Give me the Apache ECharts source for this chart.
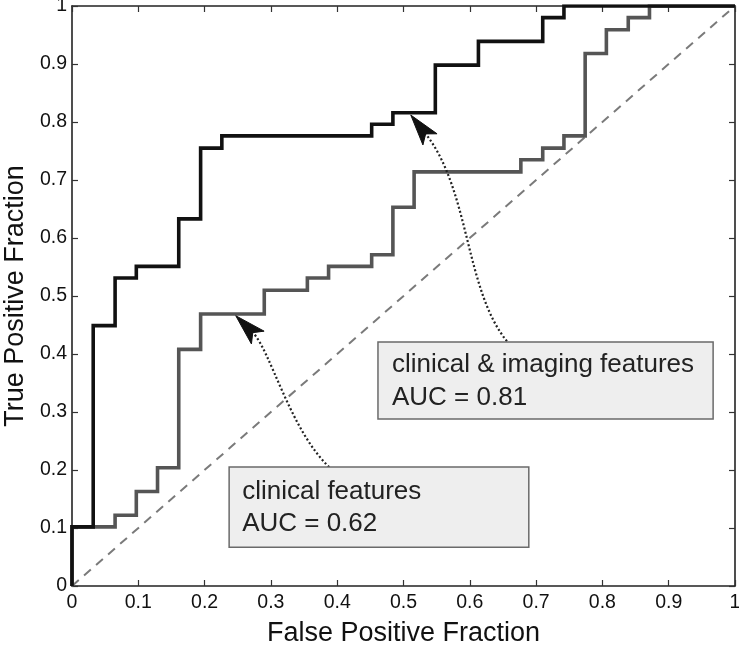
<!DOCTYPE html>
<html>
<head>
<meta charset="utf-8">
<script src="https://cdn.jsdelivr.net/npm/echarts@6/dist/echarts.min.js"></script>
<style>
html,body{margin:0;padding:0;background:#fff;}
#chart{width:739px;height:646px;}
</style>
</head>
<body>
<div id="chart"></div>
<script>
// ROC operating points (step curves)
var imagingFPR = [0, 0, 0.032, 0.065, 0.097, 0.161, 0.194, 0.226, 0.452, 0.484, 0.548, 0.613, 0.710, 0.742, 1];
var imagingTPR = [0, 0.102, 0.449, 0.531, 0.551, 0.633, 0.755, 0.776, 0.796, 0.816, 0.898, 0.939, 0.980, 1, 1];
var clinicalFPR = [0, 0, 0.065, 0.097, 0.129, 0.161, 0.194, 0.290, 0.355, 0.387, 0.452, 0.484, 0.516, 0.677, 0.710, 0.742, 0.774, 0.806, 0.839, 0.871, 1];
var clinicalTPR = [0, 0.102, 0.122, 0.163, 0.204, 0.408, 0.469, 0.510, 0.531, 0.551, 0.571, 0.653, 0.714, 0.735, 0.755, 0.776, 0.918, 0.959, 0.980, 1, 1];
var chanceX = [0, 1];
var chanceY = [0, 1];
var ticks = [0, 0.1, 0.2, 0.3, 0.4, 0.5, 0.6, 0.7, 0.8, 0.9, 1];

var xTitle = 'False Positive Fraction';
var yTitle = 'True Positive Fraction';
var box1Lines = ['clinical & imaging features', 'AUC = 0.81'];
var box2Lines = ['clinical features', 'AUC = 0.62'];

function zip(a, b) { return a.map(function (v, i) { return [v, b[i]]; }); }

var FONT = '"Liberation Sans", Arial, Helvetica, sans-serif';
var chart = echarts.init(document.getElementById('chart'), null, {renderer: 'canvas'});

var axisCommon = {
  type: 'value', min: 0, max: 1, interval: 0.1,
  axisLine: {show: true, onZero: false, lineStyle: {color: '#222', width: 1.6}},
  axisTick: {show: true, inside: true, length: 6, lineStyle: {color: '#333', width: 1.2}},
  splitLine: {show: false}
};

chart.setOption({
  animation: false,
  backgroundColor: '#fff',
  grid: {left: 72, right: 4, top: 6, bottom: 60, containLabel: false, outerBoundsMode: 'none'},
  xAxis: [
    Object.assign({}, axisCommon, {
      position: 'bottom',
      axisLabel: {color: '#111', fontSize: 19.5, fontFamily: FONT, margin: 7,
        formatter: function (v) { return String(Math.round(v * 10) / 10); }},
      name: xTitle, nameLocation: 'middle', nameGap: 34,
      nameTextStyle: {color: '#111', fontSize: 27, fontFamily: FONT}
    }),
    Object.assign({}, axisCommon, {position: 'top', axisLabel: {show: false}})
  ],
  yAxis: [
    Object.assign({}, axisCommon, {
      position: 'left',
      axisLabel: {color: '#111', fontSize: 19.5, fontFamily: FONT, margin: 5,
        formatter: function (v) { return String(Math.round(v * 10) / 10); }},
      name: yTitle, nameLocation: 'middle', nameGap: 42, nameRotate: 90,
      nameTextStyle: {color: '#111', fontSize: 27, fontFamily: FONT}
    }),
    Object.assign({}, axisCommon, {position: 'right', axisLabel: {show: false}})
  ],
  series: [
    {
      type: 'line', name: 'chance', data: zip(chanceX, chanceY), showSymbol: false,
      lineStyle: {color: '#7a7a7a', width: 2, type: [9, 7]}, z: 1
    },
    {
      type: 'line', name: 'clinical features', data: zip(clinicalFPR, clinicalTPR), step: 'end',
      showSymbol: false, lineStyle: {color: '#555', width: 3.6, join: 'miter'}, z: 2
    },
    {
      type: 'line', name: 'clinical & imaging features', data: zip(imagingFPR, imagingTPR), step: 'end',
      showSymbol: false, lineStyle: {color: '#111', width: 3.6, join: 'miter'}, z: 3
    }
  ]
});

function px(x, y) { return chart.convertToPixel({xAxisIndex: 0, yAxisIndex: 0}, [x, y]); }

function box(x0, y0, x1, y1, lines, padX, firstOff, lineGap) {
  var a = px(x0, y0), b = px(x1, y1);
  var els = [{
    type: 'rect', z: 50,
    shape: {x: a[0], y: a[1], width: b[0] - a[0], height: b[1] - a[1]},
    style: {fill: '#eeeeee', stroke: '#6a6a6a', lineWidth: 1.5}
  }];
  lines.forEach(function (t, i) {
    els.push({
      type: 'text', z: 51,
      x: a[0] + padX, y: a[1] + firstOff + i * lineGap,
      style: {text: t, fontSize: 26, fontFamily: FONT, fill: '#222', verticalAlign: 'middle', align: 'left'}
    });
  });
  return els;
}

function arrow(p0, p1, p2, p3) {
  var P0 = px(p0[0], p0[1]), P1 = px(p1[0], p1[1]), P2 = px(p2[0], p2[1]), P3 = px(p3[0], p3[1]);
  var ang = Math.atan2(P3[1] - P2[1], P3[0] - P2[0]);
  var c = Math.cos(ang), s = Math.sin(ang);
  var local = [[0, 0], [-31, -9], [-24, 0], [-31, 9]];
  var pts = local.map(function (p) { return [P3[0] + p[0] * c - p[1] * s, P3[1] + p[0] * s + p[1] * c]; });
  var notch = pts[2];
  return [
    {type: 'bezierCurve', z: 40,
      shape: {x1: P0[0], y1: P0[1], cpx1: P1[0], cpy1: P1[1], cpx2: P2[0], cpy2: P2[1], x2: notch[0], y2: notch[1]},
      style: {stroke: '#222', lineWidth: 2.2, lineDash: [2, 2.3], fill: null}},
    {type: 'polygon', z: 41, shape: {points: pts}, style: {fill: '#111', stroke: '#111', lineWidth: 1}}
  ];
}

var g = [];
g = g.concat(arrow([0.656, 0.422], [0.593, 0.510], [0.600, 0.683], [0.511, 0.812]));
g = g.concat(arrow([0.388, 0.205], [0.329, 0.269], [0.299, 0.407], [0.247, 0.466]));
g = g.concat(box(0.4615, 0.4207, 0.967, 0.288, box1Lines, 14, 23, 33));
g = g.concat(box(0.237, 0.205, 0.689, 0.067, box2Lines, 13, 25, 32));

chart.setOption({graphic: {elements: g}});
</script>
</body>
</html>
